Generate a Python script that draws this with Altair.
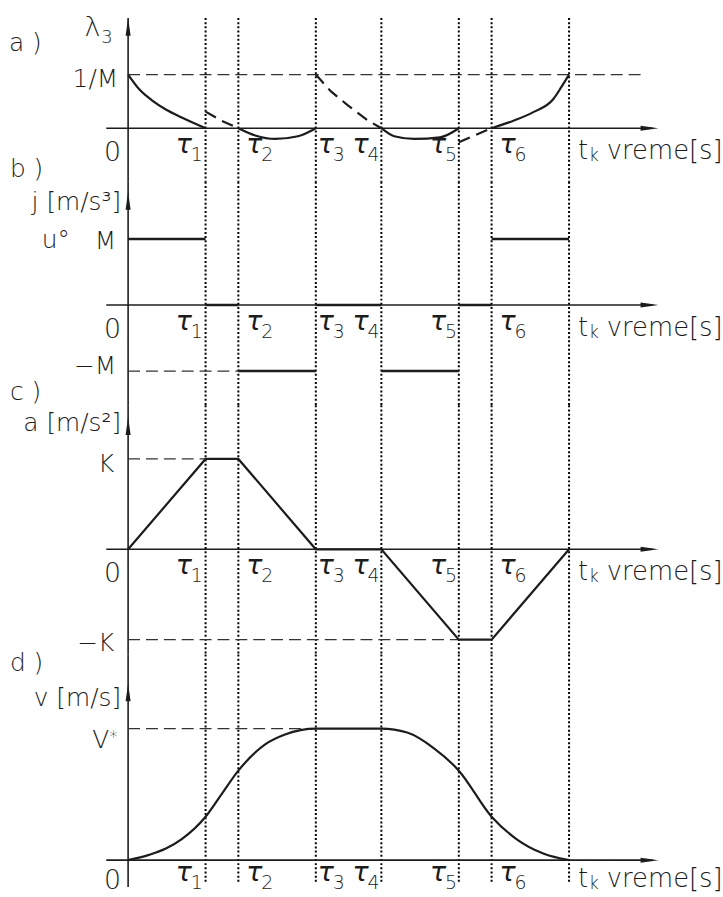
import altair as alt
import pandas as pd

# ---------------------------------------------------------------
# Time marks shared by the four diagrams: 0, tau1 ... tau6, tk
# ---------------------------------------------------------------
T_MARKS = [0, 78, 111, 189, 255, 333, 366, 444]
TAU_SUBS = ["1", "2", "3", "4", "5", "6"]

# a) costate lambda3, in units of 1/M
L3_SOLID_T = [[0, 11, 24, 38, 54, 78],
              [111, 128, 148, 171, 189],
              [255, 268, 288, 314, 333],
              [366, 388, 408, 428, 436, 444]]
L3_SOLID_V = [[1.0, 0.73, 0.52, 0.35, 0.20, 0.0],
              [0.0, -0.135, -0.20, -0.15, 0.0],
              [0.0, -0.15, -0.20, -0.17, 0.0],
              [0.0, 0.14, 0.30, 0.54, 0.76, 1.0]]
L3_DASH_T = [[78, 94, 111], [189, 204, 221, 241, 255], [333, 366]]
L3_DASH_V = [[0.31, 0.14, 0.0], [1.0, 0.69, 0.43, 0.15, 0.0], [-0.26, 0.0]]

# b) jerk j = u°, in units of M, one level per interval
J_LEVELS = [1, 0, -1, 0, -1, 0, 1]

# c) acceleration, in units of K, at the time marks
ACC = [0, 1, 1, 0, 0, -1, -1, 0]

# d) velocity, in units of V*
VEL_T = [0, 21, 38, 54, 78, 94, 111, 138, 158, 189, 255, 281, 308, 333, 366, 391, 418, 444]
VEL_V = [0, 0.04, 0.088, 0.16, 0.33, 0.50, 0.68, 0.88, 0.955, 1.0,
         1.0, 0.97, 0.85, 0.68, 0.33, 0.16, 0.05, 0]

# dashed reference levels: (level, end time)
REF_A = [(1.0, 516)]
REF_B = [(-1.0, 111)]
REF_C = [(1.0, 78), (-1.0, 333)]
REF_D = [(1.0, 189)]

# ---------------------------------------------------------------
# drawing helpers
# ---------------------------------------------------------------
FONT = "DejaVu Sans"
INK = "#1c1c1c"
WIDTH = 723
X_ORIGIN = 129                      # pixel column of t = 0
AXIS_START, ARROW_TIP = -22, 534     # extent of the time axis
XS = alt.Scale(domain=[-X_ORIGIN, WIDTH - X_ORIGIN], nice=False, zero=False)

UP_ARROW = "M0,0L0.28,2L-0.28,2Z"
RIGHT_ARROW = "M0,0L-2,-0.28L-2,0.28Z"


class Panel:
    def __init__(self, top, bottom, zero, unit):
        self.top, self.bottom, self.zero, self.unit = top, bottom, zero, unit
        self.ys = alt.Scale(domain=[self.v(bottom), self.v(top)], nice=False, zero=False)
        self.layers = []

    def v(self, py):
        return (self.zero - py) / self.unit

    def x(self, f="t"):
        return alt.X(f"{f}:Q", scale=XS, axis=None)

    def y(self, f="v"):
        return alt.Y(f"{f}:Q", scale=self.ys, axis=None)

    def vrule(self, df, **style):
        self.layers.append(alt.Chart(df).mark_rule(**style).encode(
            x=self.x(), y=self.y(), y2=alt.Y2("v2:Q")))

    def hrule(self, df, **style):
        self.layers.append(alt.Chart(df).mark_rule(**style).encode(
            x=self.x(), x2=alt.X2("t2:Q"), y=self.y()))

    def frame(self, dot_top, dot_bot, axis_top, axis_bot, tip):
        self.vrule(pd.DataFrame({"t": T_MARKS[1:], "v": self.v(dot_top), "v2": self.v(dot_bot)}),
                   color="#000", strokeWidth=2, strokeDash=[2, 2.2], strokeCap="butt")
        self.vrule(pd.DataFrame({"t": [0], "v": [self.v(axis_top)], "v2": [self.v(axis_bot)]}),
                   color=INK, strokeWidth=1.6)
        self.hrule(pd.DataFrame({"t": [AXIS_START], "t2": [ARROW_TIP - 6], "v": [0]}),
                   color=INK, strokeWidth=1.6)
        for shape, t, v in [(UP_ARROW, 0, self.v(tip)), (RIGHT_ARROW, ARROW_TIP, 0)]:
            self.layers.append(alt.Chart(pd.DataFrame({"t": [t], "v": [v]})).mark_point(
                shape=shape, filled=True, size=324, opacity=1, color=INK, strokeWidth=0
            ).encode(x=self.x(), y=self.y()))

    def refs(self, refs):
        self.hrule(pd.DataFrame({"t": [0] * len(refs), "t2": [e for _, e in refs],
                                 "v": [lv for lv, _ in refs]}),
                   color="#333", strokeWidth=1.2, strokeDash=[12, 6])

    def curve(self, ts, vs, dash=None, interp="monotone", width=2.2):
        rows = [{"t": t, "v": v, "seg": i} for i, (tt, vv) in enumerate(zip(ts, vs))
                for t, v in zip(tt, vv)]
        style = dict(color=INK, strokeWidth=width, interpolate=interp)
        if dash:
            style["strokeDash"] = dash
        self.layers.append(alt.Chart(pd.DataFrame(rows)).mark_line(**style).encode(
            x=self.x(), y=self.y(), detail="seg:N"))

    def text(self, s, px, py, size=25, align="left", italic=False):
        style = dict(font=FONT, fontSize=size, align=align, baseline="alphabetic",
                     color=INK, fontWeight=200)
        if italic:
            style["fontStyle"] = "italic"
        self.layers.append(alt.Chart(pd.DataFrame({"t": [px - X_ORIGIN], "v": [self.v(py)], "s": [s]}))
                           .mark_text(**style).encode(x=self.x(), y=self.y(), text="s:N"))

    def time_labels(self, shift=0):
        base = self.zero + shift
        for sub, left in zip(TAU_SUBS, [177, 248, 320, 355, 433, 503]):
            self.text("τ", left, base + 25, size=27, italic=True)
            self.text(sub, left + 15, base + 33, size=19)
        self.text("0", 122, base + 33, size=27, align="right")
        self.text("t", 582, base + 31, size=26)
        self.text("k", 593, base + 33, size=17)
        self.text("vreme[s]", 611, base + 31, size=26)

    def chart(self):
        return alt.layer(*self.layers).properties(width=WIDTH, height=self.bottom - self.top)


# a) lambda3
pa = Panel(0, 180, 126, 54)
pa.frame(15, 180, 15, 180, 15)
pa.refs(REF_A)
pa.curve(L3_SOLID_T, L3_SOLID_V)
pa.curve(L3_DASH_T, L3_DASH_V, dash=[12, 7], interp="linear")
pa.text("a )", 9, 48)
pa.text("λ", 85, 33, size=27)
pa.text("3", 102, 40, size=18)
pa.text("1/M", 119, 84, align="right")
pa.time_labels()

# b) jerk
pb = Panel(180, 405, 304, 66.5)
pb.frame(180, 405, 180, 405, 190)
pb.refs(REF_B)
pb.hrule(pd.DataFrame({"t": T_MARKS[:-1], "t2": T_MARKS[1:], "v": J_LEVELS}),
         color=INK, strokeWidth=2.4)
pb.text("b )", 10, 175)
pb.text("j [m/s³]", 122, 208, align="right")
pb.text("u°", 42, 247)
pb.text("M", 117, 248, align="right")
pb.text("−M", 117, 373, align="right")
pb.time_labels()

# c) acceleration
pc = Panel(405, 656, 550, 91)
pc.frame(405, 656, 405, 656, 417)
pc.refs(REF_C)
pc.curve([T_MARKS], [ACC], interp="linear")
pc.text("c )", 10, 400)
pc.text("a [m/s²]", 122, 431, align="right")
pc.text("K", 115, 472, align="right")
pc.text("−K", 115, 652, align="right")
pc.time_labels()

# d) velocity
pd_ = Panel(656, 897, 863, 132.5)
pd_.frame(656, 887, 656, 890, 685)
pd_.refs(REF_D)
pd_.curve([VEL_T], [VEL_V])
pd_.text("d )", 10, 673)
pd_.text("v [m/s]", 122, 708, align="right")
pd_.text("V", 110, 750, size=25, align="right")
pd_.text("*", 110, 745, size=17)
pd_.time_labels(shift=-4)

chart = alt.vconcat(pa.chart(), pb.chart(), pc.chart(), pd_.chart(),
                    spacing=0, bounds="flush",
                    padding={"left": 0, "top": 0, "right": 0, "bottom": 0},
                    background="white").configure_view(stroke=None)

chart.save("out.html", embed_options={"renderer": "svg", "actions": False})
